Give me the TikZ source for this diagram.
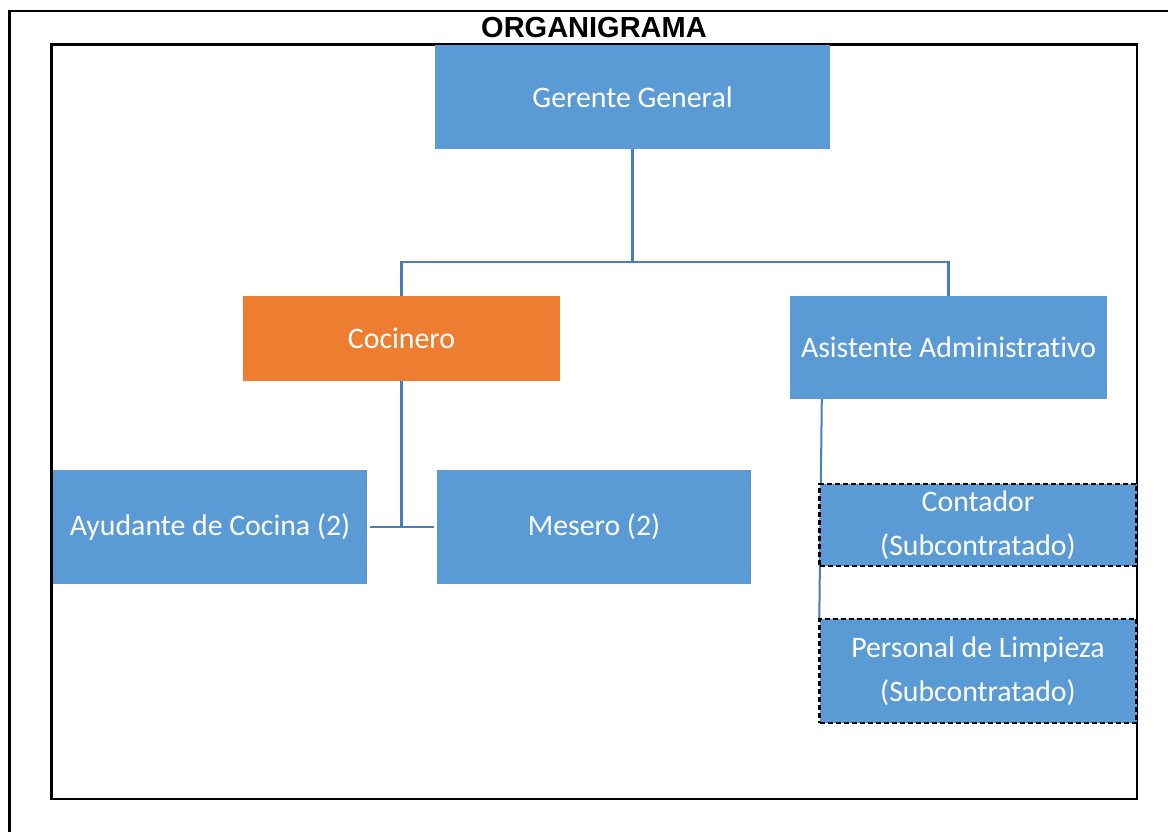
\documentclass[tikz,border=0pt]{standalone}
\usepackage{fontspec}
\setmainfont{Carlito}[Ligatures={NoCommon,NoRare,NoContextual}]
\newfontfamily\titlefont{Liberation Sans}
\usetikzlibrary{backgrounds}
\definecolor{boxblue}{HTML}{5B9BD5}
\definecolor{boxorange}{HTML}{ED7D31}
\definecolor{linkblue}{HTML}{4A7EBB}
\begin{document}
\begin{tikzpicture}[x=1pt,y=-1pt,
  unit/.style={fill=boxblue, text=white, inner sep=0pt, align=center,
    font=\fontsize{29.8}{44}\selectfont},
  sub/.style={unit, draw=black, line width=2.4pt, dash pattern=on 5pt off 3pt},
  link/.style={draw=linkblue, line width=2.6pt},
  frame/.style={draw=black, line width=2.4pt}]
\useasboundingbox (0,0) rectangle (1168,832);
% page frame and chart frame
\draw[frame] (9.5,840) -- (9.5,11) -- (1175,11);
\draw[frame] (51.5,44.5) rectangle (1137,799);
\node[font=\titlefont\bfseries\fontsize{29}{34}\selectfont] (title) at (594,28) {ORGANIGRAMA};
% positions
\node[unit, minimum width=395pt, minimum height=104pt] (ger) at (632.5,97) {Gerente General};
\node[unit, fill=boxorange, minimum width=317pt, minimum height=85pt] (coc) at (401.5,338.5) {Cocinero};
\node[unit, minimum width=317pt, minimum height=103pt] (asi) at (948.5,347.5) {Asistente Administrativo};
\node[unit, minimum width=314pt, minimum height=114pt] (ayu) at (210,527) {Ayudante de Cocina (2)};
\node[unit, minimum width=314pt, minimum height=114pt] (mes) at (594,527) {Mesero (2)};
\node[sub, minimum width=317pt, minimum height=82pt] (con) at (978,525) {Contador\\(Subcontratado)};
\node[sub, minimum width=317pt, minimum height=104pt] (lim) at (978,671) {Personal de Limpieza\\(Subcontratado)};
% reporting lines
\coordinate (bus) at (632.5,262);
\draw[link] (ger.south) -- (bus);
\draw[link] (coc.north) |- (bus) -| (asi.north);
\draw[link] (coc.south) -- (coc.south |- ayu.east);
\draw[link] ([xshift=3pt]ayu.east) -- ([xshift=-3pt]mes.west);
\begin{scope}[on background layer]
\draw[link, line width=2pt] ([xshift=32pt]asi.south west) -- ([xshift=1pt]lim.north west);
\end{scope}
\end{tikzpicture}
\end{document}
